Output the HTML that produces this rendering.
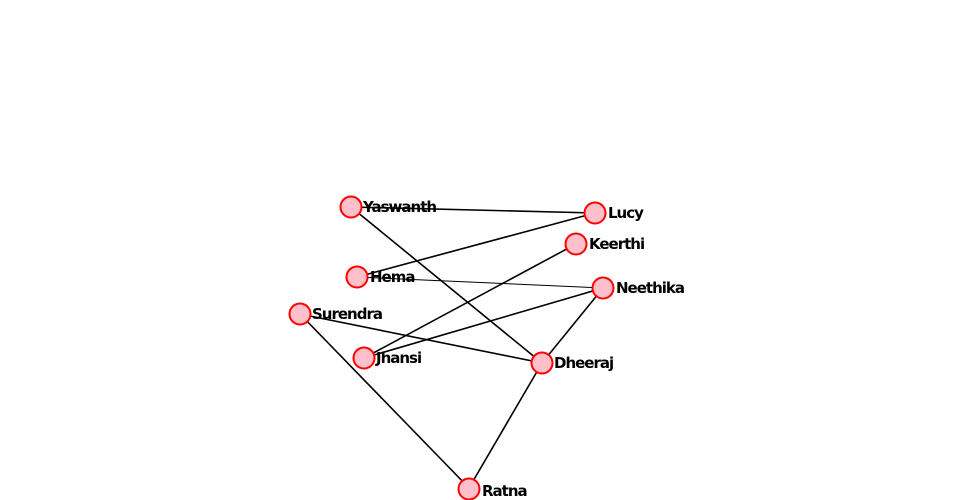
<!DOCTYPE html>
<html><head><style>html,body{margin:0;background:#fff;overflow:hidden;width:960px;height:500px}svg{display:block}svg text{font-family:"DejaVu Sans","Liberation Sans",sans-serif;font-size:15px;font-weight:bold;letter-spacing:-1px;fill:#000}</style></head>
<body><svg width="960" height="500" xmlns="http://www.w3.org/2000/svg">
<g stroke="#000" stroke-width="1.6">
<line x1="351" y1="207" x2="595" y2="213"/>
<line x1="351" y1="207" x2="542" y2="363"/>
<line x1="595" y1="213" x2="357" y2="277"/>
<line x1="357" y1="277" x2="603" y2="288" stroke-width="1"/>
<line x1="576" y1="244" x2="364" y2="358"/>
<line x1="603" y1="288" x2="364" y2="358"/>
<line x1="300" y1="314" x2="542" y2="363"/>
<line x1="300" y1="314" x2="469" y2="488"/>
<line x1="603" y1="288" x2="542" y2="363"/>
<line x1="542" y1="363" x2="469" y2="488"/>
</g>
<g fill="pink" stroke="red" stroke-width="2">
<circle cx="351" cy="207" r="10.5"/><circle cx="595" cy="213" r="10.5"/><circle cx="576" cy="244" r="10.5"/>
<circle cx="357" cy="277" r="10.5"/><circle cx="603" cy="288" r="10.5"/><circle cx="300" cy="314" r="10.5"/>
<circle cx="364" cy="358" r="10.5"/><circle cx="542" cy="363" r="10.5"/><circle cx="469" cy="489" r="10.5"/>
</g>
<text x="363" y="212">Yaswanth</text>
<text x="608" y="218">Lucy</text>
<text x="589" y="249">Keerthi</text>
<text x="370" y="282">Hema</text>
<text x="616" y="293">Neethika</text>
<text x="312" y="319">Surendra</text>
<text x="376" y="363">Jhansi</text>
<text x="554" y="368">Dheeraj</text>
<text x="482" y="496">Ratna</text>
</svg></body></html>
